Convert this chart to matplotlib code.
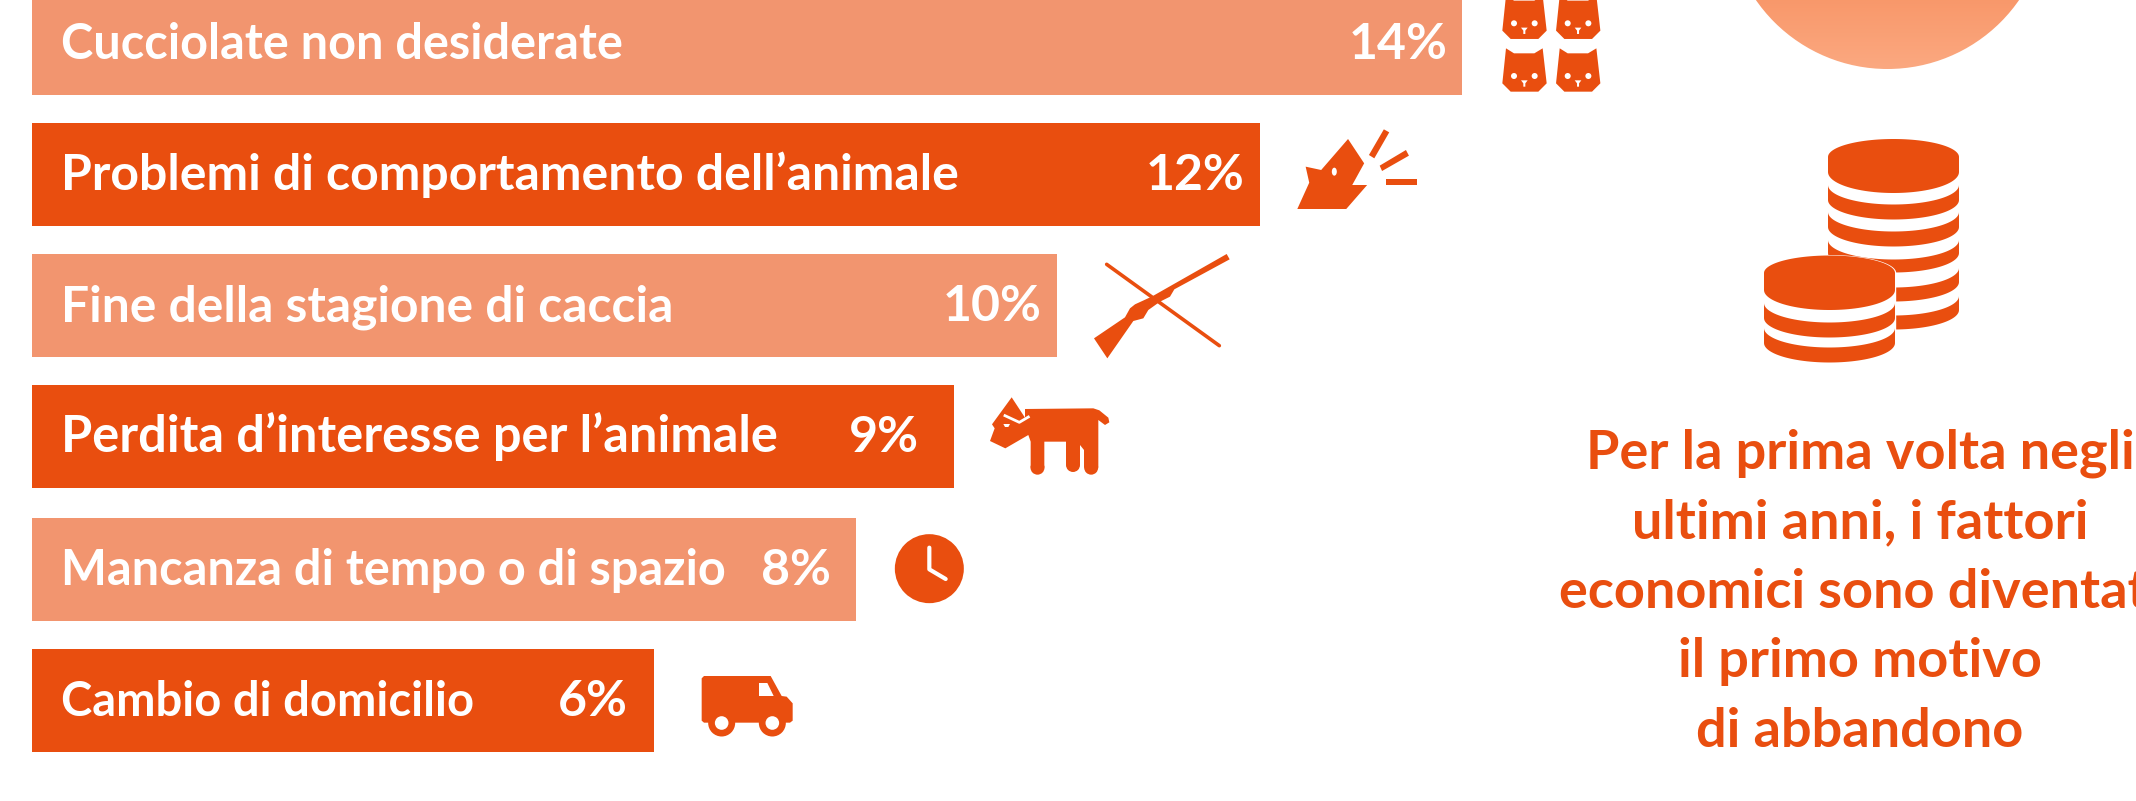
import numpy as np
import matplotlib
matplotlib.use('Agg')
import matplotlib.pyplot as plt
from matplotlib.patches import Polygon, Circle, Ellipse

# data
motivi = ['Cucciolate non desiderate',
          'Problemi di comportamento dell\u2019animale',
          'Fine della stagione di caccia',
          'Perdita d\u2019interesse per l\u2019animale',
          'Mancanza di tempo o di spazio',
          'Cambio di domicilio']
percentuali = [14, 12, 10, 9, 8, 6]
lunghezze = [13.96, 11.99, 10.01, 9.0, 8.05, 6.07]
nota = ['Per la prima volta negli', 'ultimi anni, i fattori',
        'economici sono diventati', 'il primo motivo', 'di abbandono']

# layout
righe = [0, 1, 2, 3, 4.015, 5.015]
rientro_pct = [14, 15, 15, 35, 25, 26]
corpo_motivi = [35, 36, 35.8, 36.4, 35, 33.9]
ARANCIO = '#E94E0F'
CHIARO = '#F2956F'
FONT = 'Lato'
PX_X = 102.4
PX_Y = 131.0

fig = plt.figure(figsize=(21.36, 8.01), dpi=100, facecolor='white')

ax = fig.add_axes([0, 0, 1, 1])
ax.set_xlim(-32 / PX_X, (2136 - 32) / PX_X)
ax.set_ylim((801 - 43.5) / PX_Y, -43.5 / PX_Y)
ax.axis('off')

colori = [CHIARO if i % 2 == 0 else ARANCIO for i in range(len(motivi))]
ax.barh(righe, lunghezze, height=103 / PX_Y, color=colori, linewidth=0)

for i in range(len(motivi)):
    y = righe[i] + 15.5 / PX_Y
    ax.text(29 / PX_X, y, motivi[i], color='white', fontsize=corpo_motivi[i], family=FONT,
            fontweight='bold', va='baseline', ha='left')
    ax.text(lunghezze[i] - rientro_pct[i] / PX_X, y, str(percentuali[i]) + '%',
            color='white', fontsize=36, family=FONT, fontweight='bold',
            va='baseline', ha='right')

# icons are drawn on a second axes in pixels
ic = fig.add_axes([0, 0, 1, 1], facecolor='none')
ic.set_xlim(0, 2136)
ic.set_ylim(801, 0)
ic.axis('off')


def pts(lista, x0, y0, fx=3.0, fy=3.0):
    return [(x0 + a / fx, y0 + b / fy) for a, b in lista]


def poly(lista, color=ARANCIO):
    ic.add_patch(Polygon(lista, closed=True, color=color, linewidth=0))


def gatto(dx, dy):
    forma = [(48, 145), (72, 160), (133, 160), (158, 145), (170, 250),
             (145, 275), (62, 275), (37, 250)]
    poly(pts(forma, 1490 + dx, dy))
    for ex in (72, 134):
        cx, cy = pts([(ex, 228)], 1490 + dx, dy)[0]
        ic.add_patch(Circle((cx, cy), 3, color='white', linewidth=0))
    poly(pts([(93, 241), (113, 241), (106, 250), (106, 260), (100, 260), (100, 250)],
             1490 + dx, dy), 'white')


for dx in (0, 53.7):
    for dy in (0, -52.7):
        gatto(dx, dy)

# cane che abbaia
fx1, fy1 = 1568 / 936, 3.0
poly(pts([(248, 417), (275, 490), (255, 555), (280, 555), (245, 627), (163, 627),
          (183, 548), (177, 500), (203, 510)], 1200, 0, fx1, fy1))
ic.add_patch(Ellipse(pts([(225, 515)], 1200, 0, fx1, fy1)[0], 5, 8, color='white', linewidth=0))
poly(pts([(308, 388), (317, 397), (292, 475), (283, 465)], 1200, 0, fx1, fy1))
poly(pts([(345, 450), (350, 467), (305, 513), (301, 497)], 1200, 0, fx1, fy1))
poly(pts([(311, 537), (363, 537), (363, 556), (311, 556)], 1200, 0, fx1, fy1))

# fucile
(xa, ya), (xb, yb) = pts([(80, 73), (418, 317)], 1080, 240)
ic.plot([xa, xb], [ya, yb], color=ARANCIO, lw=2.6, solid_capstyle='round')
poly(pts([(440, 42), (449, 58), (283, 148), (270, 170), (240, 185), (205, 210),
          (190, 235), (160, 243), (82, 355), (42, 295), (135, 232), (150, 205),
          (165, 193), (215, 170)], 1080, 240))

# cane
poly(pts([(135, 72), (340, 70), (358, 76), (385, 98), (388, 112), (375, 120),
          (355, 105), (355, 248), (312, 248), (312, 195), (300, 180), (300, 240),
          (258, 240), (258, 170), (193, 170), (193, 248), (152, 248), (152, 170),
          (145, 150), (76, 190), (30, 168), (44, 130), (36, 118), (95, 37), (135, 98)],
         980, 385))
for lx, ly in ((172.5, 248), (279, 240), (333.5, 248)):
    ic.add_patch(Circle(pts([(lx, ly)], 980, 385)[0], 7, color=ARANCIO, linewidth=0))
sop = pts([(75, 92), (118, 112), (145, 96)], 980, 385)
ic.plot([p[0] for p in sop], [p[1] for p in sop], color='white', lw=2.0)
poly(pts([(70, 117), (90, 117), (85, 126), (75, 126)], 980, 385), 'white')

# orologio
centro = pts([(868, 566)], 640, 380)[0]
ic.add_patch(Circle(centro, 34.5, color=ARANCIO, linewidth=0))
lan = pts([(868, 503), (868, 568), (917, 597)], 640, 380)
ic.plot([p[0] for p in lan], [p[1] for p in lan], color='white', lw=3,
        solid_capstyle='round', solid_joinstyle='round')

# furgone
poly(pts([(185, 895), (192, 888), (392, 888), (425, 948), (440, 950), (458, 970),
          (458, 1022), (450, 1028), (192, 1028), (185, 1022)], 640, 380))
for wx in (245, 397):
    c = pts([(wx, 1029)], 640, 380)[0]
    ic.add_patch(Circle(c, 13.5, color=ARANCIO, linewidth=0))
    ic.add_patch(Circle(c, 6.8, color='white', linewidth=0))
poly(pts([(357, 909), (382, 909), (401, 948), (357, 948)], 640, 380), 'white')


# monete
def moneta(cx, rx, y_alto, y_basso, ry, color=ARANCIO):
    t = np.linspace(0, np.pi, 60)
    sotto = np.column_stack([cx + rx * np.cos(t), y_alto + ry * np.sin(t)])
    fondo = np.column_stack([cx + rx * np.cos(t[::-1]), y_basso + ry * np.sin(t[::-1])])
    ic.add_patch(Polygon(np.vstack([sotto, fondo]), closed=True, color=color, linewidth=0))


def moneta_piena(cx, rx, y_alto, y_basso, ry_su, ry_giu, color=ARANCIO):
    t = np.linspace(0, np.pi, 60)
    su = np.column_stack([cx - rx * np.cos(t), y_alto - ry_su * np.sin(t)])
    giu = np.column_stack([cx + rx * np.cos(t), y_basso + ry_giu * np.sin(t)])
    ic.add_patch(Polygon(np.vstack([su, giu]), closed=True, color=color, linewidth=0))


cx1, cx2, rx = 1893.5, 1829.5, 65.5
moneta_piena(cx1, rx, 157, 172, 18, 21)
for alto, basso in ((185, 200), (212, 227), (240, 253), (268, 282), (296, 310)):
    moneta(cx1, rx, alto, basso, 19.5)
# white edge behind the front pile
moneta_piena(cx2, rx + 1.2, 273, 343, 18, 20, 'white')
moneta_piena(cx2, rx, 273, 290, 17.5, 20)
for alto, basso in ((303, 318), (328, 343)):
    moneta(cx2, rx, alto, basso, 19.5)

# cerchio in alto a destra, con sfumatura
grad = matplotlib.colors.LinearSegmentedColormap.from_list('c', ['#F78A58', '#FBA981'])
im = ic.imshow(np.linspace(0, 1, 80).reshape(-1, 1), cmap=grad, vmin=0.0, vmax=1.0,
               extent=(1720, 2050, 72, -60), aspect='auto', zorder=1)
disco = Circle((1887.5, -91), 160, transform=ic.transData, facecolor='none', linewidth=0)
ic.add_patch(disco)
im.set_clip_path(disco)
ic.set_xlim(0, 2136)
ic.set_ylim(801, 0)

for riga, base in zip(nota, [469, 538, 608, 677, 747]):
    ic.text(1860, base, riga, color=ARANCIO, fontsize=39, family=FONT, fontweight='bold',
            ha='center', va='baseline')

plt.savefig('out.png', dpi=100)
